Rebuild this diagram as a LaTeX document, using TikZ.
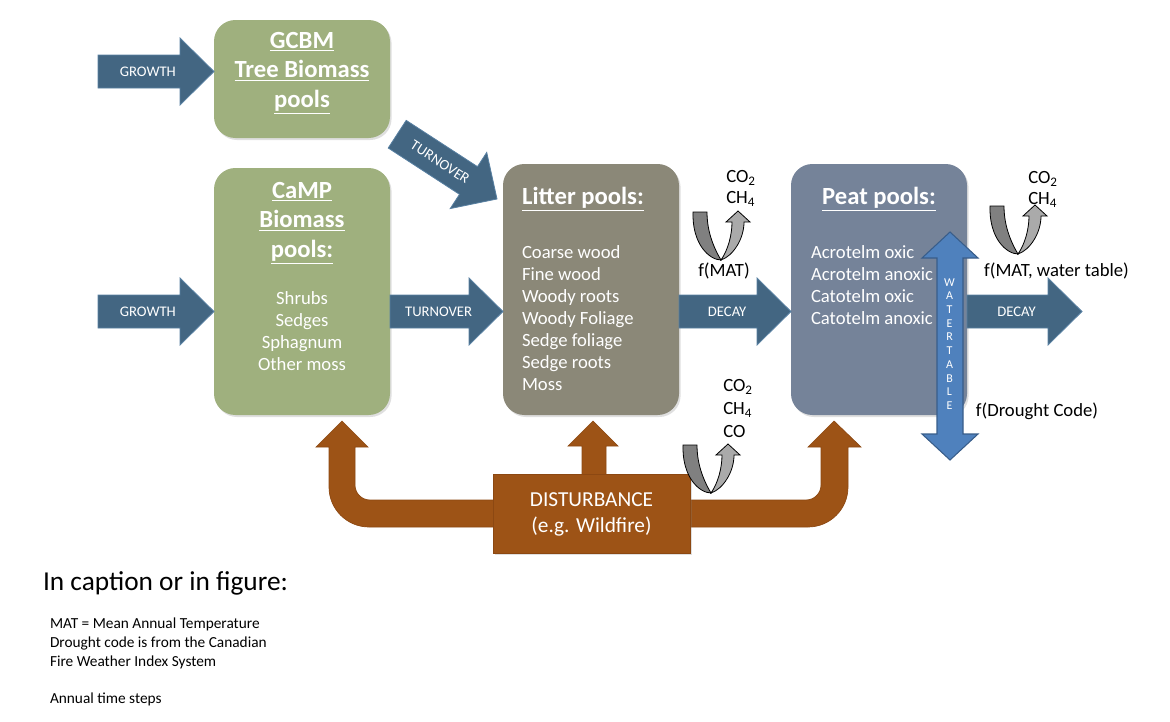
\documentclass[tikz,border=0pt]{standalone}
\usepackage{fontspec}
\setmainfont{Carlito}
\usetikzlibrary{shadows,calc}
\definecolor{sage}{RGB}{159,176,126}
\definecolor{litterc}{RGB}{139,136,120}
\definecolor{peatc}{RGB}{117,131,153}
\definecolor{distc}{RGB}{157,83,22}
\definecolor{distb}{RGB}{140,72,18}
\definecolor{arrowc}{RGB}{67,102,130}
\definecolor{arrowb}{RGB}{88,128,162}
\definecolor{waterc}{RGB}{79,129,189}
\definecolor{waterb}{RGB}{56,93,138}
\definecolor{udark}{RGB}{128,128,128}
\definecolor{ulight}{RGB}{170,170,170}
\tikzset{
  box/.style={rounded corners=16pt, inner sep=0pt, outer sep=0pt, minimum width=132pt,
    drop shadow={opacity=0.25, shadow xshift=1.2pt, shadow yshift=-1.5pt}},
  wtxt/.style={text=white, inner sep=0pt, outer sep=0pt},
  btxt/.style={text=black, inner sep=0pt, outer sep=0pt},
  ttlfont/.style={font=\fontsize{18.5}{22}\selectfont\bfseries},
  itemfont/.style={font=\fontsize{14}{16.5}\selectfont},
  barrow/.style={fill=arrowc, draw=arrowb, line width=0.6pt},
  alabel/.style={text=white, inner sep=0pt, font=\fontsize{11}{12}\selectfont},
  brownarrow/.style={fill=distc, draw=distb, line width=0.5pt},
}
\newcommand\blockarrow[5]{%
  \begin{scope}[shift={(#1)}, rotate=#2]
    \filldraw[barrow] (0,0) -- (-34,-33.5) -- (-34,-16.5) -- (-#3,-16.5)
      -- (-#3,16.5) -- (-34,16.5) -- (-34,33.5) -- cycle;
    \node[alabel, transform shape] (#5) at ({-0.57*#3},0) {#4};
  \end{scope}}
\newcommand\uturn[1]{%
  \begin{scope}[shift={(#1)}]
    \filldraw[fill=udark, draw=black, line width=0.6pt]
      (-27,-47) .. controls (-28,-14) and (-10,1) .. (1,1)
      .. controls (-8,-14) and (-13,-30) .. (-13,-47) -- cycle;
    \filldraw[fill=ulight, draw=black, line width=0.6pt]
      (1,1) .. controls (13,-3) and (24,-20) .. (24,-37) -- (30,-37) -- (18,-48)
      -- (6,-37) -- (12,-37) .. controls (12,-24) and (8,-9) .. (1,1) -- cycle;
  \end{scope}}
\begin{document}
\begin{tikzpicture}[x=0.75pt,y=-0.75pt]
\useasboundingbox (0,0) rectangle (1170,721);

% brown disturbance arrows (drawn below boxes)
\filldraw[brownarrow] (500,500) -- (370,500) .. controls (361.7,500) and (355,493.3) .. (355,485)
  -- (355,447) -- (368,447) -- (342,421) -- (316,447) -- (329,447) -- (329,487)
  .. controls (329,509.1) and (346.9,527) .. (369,527) -- (500,527) -- cycle;
\filldraw[brownarrow] (683,500) -- (806,500) .. controls (814.3,500) and (821,493.3) .. (821,485)
  -- (821,447) -- (808,447) -- (834,421) -- (861,447) -- (848,447) -- (848,487)
  .. controls (848,509.1) and (830.1,527) .. (808,527) -- (683,527) -- cycle;
\filldraw[brownarrow] (582,480) -- (582,446) -- (568,446) -- (593,421) -- (618,446)
  -- (606,446) -- (606,480) -- cycle;

% boxes
\node[box, fill=sage, minimum height=88.5pt] (gcbm) at (302,79) {};
\node[box, fill=sage, minimum height=185.25pt] (camp) at (302,291.5) {};
\node[box, fill=litterc, minimum height=188.25pt] (litter) at (591,289.5) {};
\node[box, fill=peatc, minimum height=188.25pt] (peat) at (879,289.5) {};
\node[fill=distc, draw=distb, line width=0.5pt, minimum width=147.75pt, minimum height=59.25pt,
  inner sep=0pt, outer sep=0pt, drop shadow={opacity=0.25, shadow xshift=1.2pt, shadow yshift=-1.5pt}]
  (dist) at (591.5,513.5) {};

% box texts
\node[wtxt, ttlfont, align=center] (gcbmt) at (302,73) {\underline{GCBM}\\\underline{Tree Biomass}\\\underline{pools}};
\node[wtxt, ttlfont, align=center] (campt) at (302,223) {\underline{CaMP}\\\underline{Biomass}\\\underline{pools:}};
\node[wtxt, itemfont, align=center] (campi) at (302,331) {Shrubs\\Sedges\\Sphagnum\\Other moss};
\node[wtxt, ttlfont] (littert) at (583,199) {\underline{Litter pools:}};
\node[wtxt, itemfont, align=left, anchor=west] (litteri) at (522,318.5)
  {Coarse wood\\Fine wood\\Woody roots\\Woody Foliage\\Sedge foliage\\Sedge roots\\Moss};
\node[wtxt, ttlfont] (peatt) at (879,199) {\underline{Peat pools:}};
\node[wtxt, itemfont, align=left, anchor=west] (peati) at (811,285)
  {Acrotelm oxic\\Acrotelm anoxic\\Catotelm oxic\\Catotelm anoxic};
\node[wtxt, font=\fontsize{16}{19.5}\selectfont, align=center] (distt) at (591.5,514)
  {DISTURBANCE\\(e.g. Wildfire)};

% block arrows
\coordinate (row) at (0,311.5);
\coordinate (toprow) at (0,71.5);
\blockarrow{gcbm.west |- toprow}{0}{116}{GROWTH}{g1}
\blockarrow{camp.west |- row}{0}{116}{GROWTH}{g2}
\blockarrow{litter.west |- row}{0}{113}{TURNOVER}{t1}
\blockarrow{peat.west |- row}{0}{112}{DECAY}{d1}
\coordinate (d2tip) at (1082,311.5);
\blockarrow{d2tip}{0}{115}{DECAY}{d2}
\coordinate (t2tip) at (497,199);
\blockarrow{t2tip}{-33}{119}{TURNOVER}{t2}

% water table arrow
\filldraw[fill=waterc, draw=waterb, line width=0.8pt] (950,232) -- (978,258) -- (963,258) -- (963,434)
  -- (978,434) -- (950,460) -- (922,434) -- (937,434) -- (937,258) -- (922,258) -- cycle;
\node[wtxt, font=\fontsize{9}{10.3}\selectfont, align=center] (wt) at (949.5,344)
  {W\\A\\T\\E\\R\\T\\A\\B\\L\\E};

% gas release U-turn arrows
\coordinate (u1) at (720,259);
\coordinate (u2) at (1017,253);
\coordinate (u3) at (710,492);
\uturn{u1}
\uturn{u2}
\uturn{u3}

% gas labels
\node[btxt, font=\fontsize{14}{15.75}\selectfont, align=left] (gas1) at (741,188.5) {CO\textsubscript{2}\\CH\textsubscript{4}};
\node[btxt, font=\fontsize{14}{15.75}\selectfont, align=left] (gas2) at (1043,189) {CO\textsubscript{2}\\CH\textsubscript{4}};
\node[btxt, font=\fontsize{14}{16.9}\selectfont, align=left] (gas3) at (738,408.5) {CO\textsubscript{2}\\CH\textsubscript{4}\\CO};
\node[btxt, font=\fontsize{14}{16}\selectfont] (fmat) at (724,271) {f(MAT)};
\node[btxt, font=\fontsize{14}{16}\selectfont] (fmatw) at (1056.5,271) {f(MAT, water table)};
\node[btxt, font=\fontsize{14}{16}\selectfont] (fdc) at (1037,411) {f(Drought Code)};

% caption notes
\node[btxt, font=\fontsize{20.5}{24}\selectfont, anchor=west] (cap) at (43,583) {In caption or in figure:};
\node[btxt, font=\fontsize{11.5}{14.25}\selectfont, align=left, anchor=west] (notes) at (50,643)
  {MAT = Mean Annual Temperature\\Drought code is from the Canadian\\Fire Weather Index System};
\node[btxt, font=\fontsize{11.5}{14.25}\selectfont, anchor=west] (annual) at (50,699) {Annual time steps};
\end{tikzpicture}
\end{document}
